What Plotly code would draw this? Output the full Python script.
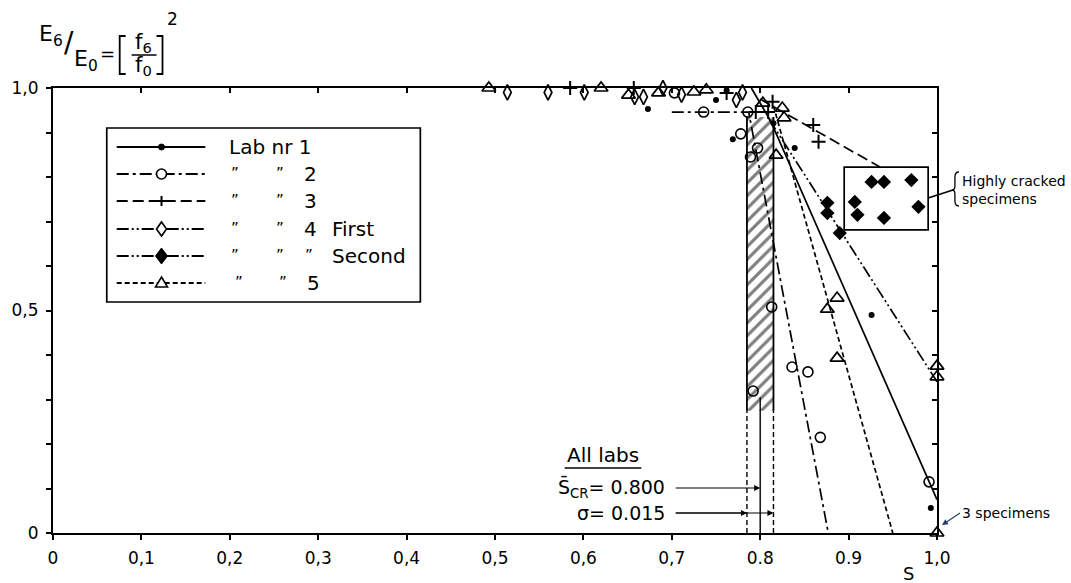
import plotly.graph_objects as go

FONT = "DejaVu Sans"

# ---------------- data ----------------
lab1_x = [0.673, 0.750, 0.762, 0.769, 0.815, 0.839, 0.926, 0.993]
lab1_y = [0.953, 0.973, 0.995, 0.885, 0.921, 0.865, 0.490, 0.056]

lab2_x = [0.703, 0.736, 0.786, 0.778, 0.797, 0.789, 0.813, 0.836, 0.854, 0.792, 0.868, 0.991]
lab2_y = [0.989, 0.946, 0.946, 0.897, 0.865, 0.845, 0.508, 0.373, 0.362, 0.319, 0.215, 0.115]

lab3_x = [0.585, 0.657, 0.762, 0.795, 0.809, 0.814, 0.860, 0.866]
lab3_y = [1.000, 1.000, 0.989, 0.946, 0.946, 0.969, 0.917, 0.879]

lab4a_x = [0.514, 0.560, 0.601, 0.658, 0.668, 0.690, 0.711, 0.773, 0.780]
lab4a_y = [0.990, 0.990, 0.990, 0.980, 0.980, 1.000, 0.985, 0.973, 0.990]

lab4b_x = [0.876, 0.876, 0.890, 0.907, 0.910, 0.926, 0.940, 0.940, 0.971, 0.979]
lab4b_y = [0.742, 0.719, 0.674, 0.744, 0.715, 0.789, 0.789, 0.708, 0.793, 0.733]

lab5_x = [0.493, 0.620, 0.651, 0.685, 0.725, 0.739, 0.803, 0.825, 0.827, 0.818,
          0.887, 0.876, 0.887, 1.000, 1.000, 1.000]
lab5_y = [1.000, 1.000, 0.984, 0.989, 0.991, 0.996, 0.966, 0.955, 0.933, 0.849,
          0.528, 0.503, 0.393, 0.375, 0.351, 0.000]

# fitted lines per lab
fit1_x = [0.790, 0.812, 1.000]
fit1_y = [1.000, 0.925, 0.075]
fit2_x = [0.700, 0.787, 0.877]
fit2_y = [0.946, 0.946, 0.000]
fit3_x = [0.800, 0.935]
fit3_y = [0.975, 0.823]
fit4b_x = [0.810, 1.000]
fit4b_y = [0.930, 0.340]
fit5_x = [0.815, 0.950]
fit5_y = [0.960, 0.000]

# all-labs critical value
S_CR = 0.800
SIGMA = 0.015
HATCH_LO = 0.275
HATCH_HI = 0.935

# highly cracked box
box_x = [0.895, 0.990]
box_y = [0.681, 0.822]

x_ticks = [0.0, 0.1, 0.2, 0.3, 0.4, 0.5, 0.6, 0.7, 0.8, 0.9, 1.0]
x_ticktext = ["0", "0,1", "0,2", "0,3", "0,4", "0,5", "0,6", "0,7", "0.8", "0.9", "1,0"]
y_ticks = [0.0, 0.1, 0.2, 0.3, 0.4, 0.5, 0.6, 0.7, 0.8, 0.9, 1.0]
y_ticktext = ["0", "", "", "", "", "0,5", "", "", "", "", "1,0"]

# ---------------- layout helpers (pixel -> paper) ----------------
W, H = 1071, 583
L, R, T, B = 49, 937, 88, 533


def px(x):
    return (x - L) / (R - L)


def py(y):
    return (B - y) / (B - T)


DASH_2 = "12px,4px,3px,4px"
DASH_3 = "11px,5px"
DASH_4 = "12px,3px,2px,3px,2px,3px"
DASH_5 = "5px,3px"

fig = go.Figure()

# hatched band (S_CR +/- sigma)
band_x = [S_CR - SIGMA, S_CR + SIGMA, S_CR + SIGMA, S_CR - SIGMA, S_CR - SIGMA]
band_y = [HATCH_LO, HATCH_LO, HATCH_HI, HATCH_HI, HATCH_LO]
fig.add_trace(go.Scatter(
    x=band_x, y=band_y, mode="lines", fill="toself", fillcolor="white",
    fillpattern=dict(shape="/", fgcolor="black", bgcolor="white", size=9, solidity=0.35),
    line=dict(width=0), showlegend=False, hoverinfo="skip"))
for xe in (S_CR - SIGMA, S_CR + SIGMA):
    fig.add_trace(go.Scatter(x=[xe, xe], y=[HATCH_LO, HATCH_HI], mode="lines",
                             line=dict(color="black", width=1.8), showlegend=False,
                             hoverinfo="skip"))
    fig.add_trace(go.Scatter(x=[xe, xe], y=[0, HATCH_LO], mode="lines",
                             line=dict(color="black", width=1.4, dash="5px,3px"),
                             showlegend=False, hoverinfo="skip"))
fig.add_trace(go.Scatter(x=[S_CR, S_CR], y=[0, HATCH_LO + 0.03], mode="lines",
                         line=dict(color="black", width=1.4), showlegend=False,
                         hoverinfo="skip"))

# fitted lines
fits = [
    (fit1_x, fit1_y, "solid"),
    (fit2_x, fit2_y, DASH_2),
    (fit3_x, fit3_y, DASH_3),
    (fit4b_x, fit4b_y, DASH_4),
    (fit5_x, fit5_y, DASH_5),
]
for fx, fy, dash in fits:
    fig.add_trace(go.Scatter(x=fx, y=fy, mode="lines", cliponaxis=False,
                             line=dict(color="black", width=1.7, dash=dash),
                             showlegend=False, hoverinfo="skip"))

# markers
markers = [
    (lab1_x, lab1_y, dict(symbol="circle", size=6, color="black")),
    (lab2_x, lab2_y, dict(symbol="circle-open", size=10, color="black", line=dict(width=1.6))),
    (lab3_x, lab3_y, dict(symbol="cross-thin-open", size=10, color="black", line=dict(width=2))),
    (lab4a_x, lab4a_y, dict(symbol="diamond-tall-open", size=11, color="black", line=dict(width=1.7))),
    (lab4b_x, lab4b_y, dict(symbol="diamond", size=11, color="black")),
    (lab5_x, lab5_y, dict(symbol="triangle-up-open", size=12, color="black", line=dict(width=1.7))),
]
for mx, my, mk in markers:
    fig.add_trace(go.Scatter(x=mx, y=my, mode="markers", marker=mk, cliponaxis=False,
                             showlegend=False))

# dummy trace so the top / right axes are drawn
fig.add_trace(go.Scatter(x=[None], y=[None], xaxis="x2", yaxis="y2", showlegend=False))

shapes = []
annotations = []


def txt(x, y, text, size, xanchor="center", yanchor="middle", align="center"):
    return dict(xref="paper", yref="paper", x=px(x), y=py(y), xanchor=xanchor,
                yanchor=yanchor, align=align, showarrow=False, text=text,
                font=dict(family=FONT, size=size, color="black"))


# highly cracked box
shapes.append(dict(type="rect", xref="x", yref="y", x0=box_x[0], x1=box_x[1],
                   y0=box_y[0], y1=box_y[1], line=dict(color="black", width=1.7)))
# leader + brace
shapes.append(dict(type="line", xref="paper", yref="paper", x0=box_x[1], y0=py(198),
                   x1=px(953), y1=py(190), line=dict(color="black", width=1.4)))
brace = ("M {a},{t} Q {b},{t} {b},{t2} L {b},{m1} Q {b},{m} {c},{m} "
         "Q {b},{m} {b},{m2} L {b},{b2} Q {b},{bt} {a},{bt}").format(
    a=px(959), b=px(955), c=px(952), t=py(172), t2=py(177), m1=py(186), m=py(190),
    m2=py(194), b2=py(201), bt=py(206))
shapes.append(dict(type="path", xref="paper", yref="paper", path=brace,
                   line=dict(color="black", width=1.3)))
annotations.append(txt(960, 190, "Highly cracked<br>specimens", 14, xanchor="left",
                       align="left"))

# 3 specimens
annotations.append(dict(xref="paper", yref="paper", x=px(942), y=py(525), ax=18, ay=-12,
                        showarrow=True, arrowhead=2, arrowsize=1, arrowwidth=1.2,
                        text="3 specimens", xanchor="left", yanchor="middle",
                        font=dict(family=FONT, size=14, color="black")))

# All labs annotations
annotations.append(txt(563, 455, "All labs", 20, xanchor="left"))
shapes.append(dict(type="line", xref="paper", yref="paper", x0=px(563), x1=px(640),
                   y0=py(468), y1=py(468), line=dict(color="black", width=1.6)))
annotations.append(txt(666, 488, "S\u0304<sub>CR</sub>= 0.800", 19, xanchor="right"))
annotations.append(txt(666, 513, "\u03c3= 0.015", 19, xanchor="right"))
arrow_tail = px(673)
for xh, yh in ((S_CR, py(488)), (S_CR - SIGMA, py(513)), (S_CR + SIGMA, py(513))):
    annotations.append(dict(xref="x", yref="y", axref="x", ayref="y",
                            x=xh, y=yh, ax=arrow_tail, ay=yh, text="", showarrow=True,
                            arrowhead=2, arrowsize=1, arrowwidth=1.2, arrowcolor="black"))

# axis title S
annotations.append(txt(908, 573, "S", 18))

# y-axis formula title
annotations += [
    txt(33, 36, "E<sub>6</sub>", 22, xanchor="left"),
    txt(65, 43, "/", 28),
    txt(68, 61, "E<sub>0</sub>", 22, xanchor="left"),
    txt(104, 53, "=", 18),
    txt(140, 43, "f<sub>6</sub>", 21),
    txt(140, 66, "f<sub>0</sub>", 21),
    txt(169, 19, "2", 17),
]
shapes += [
    dict(type="path", xref="paper", yref="paper",
         path=f"M {px(122)},{py(36)} L {px(116)},{py(36)} L {px(116)},{py(74)} L {px(122)},{py(74)}",
         line=dict(color="black", width=1.8)),
    dict(type="path", xref="paper", yref="paper",
         path=f"M {px(153)},{py(36)} L {px(159)},{py(36)} L {px(159)},{py(74)} L {px(153)},{py(74)}",
         line=dict(color="black", width=1.8)),
    dict(type="line", xref="paper", yref="paper", x0=px(128), x1=px(153), y0=py(55),
         y1=py(55), line=dict(color="black", width=1.5)),
]

# ---------------- legend (drawn as a key box) ----------------
shapes.append(dict(type="rect", xref="paper", yref="paper", x0=px(103), x1=px(418),
                   y0=py(128), y1=py(302), line=dict(color="black", width=1.7),
                   fillcolor="white", layer="above"))
rows = [147, 174, 201, 229, 256, 283]
row_dash = ["solid", DASH_2, DASH_3, DASH_4, DASH_4, DASH_5]
for r, d in zip(rows, row_dash):
    shapes.append(dict(type="line", xref="paper", yref="paper", x0=px(113), x1=px(202),
                       y0=py(r), y1=py(r), line=dict(color="black", width=1.8, dash=d)))
mx0 = px(158)


def pix_shape(row, path=None, circle=None, fill="white", lw=1.6):
    d = dict(xref="paper", yref="paper", xsizemode="pixel", ysizemode="pixel",
             xanchor=mx0, yanchor=py(row), line=dict(color="black", width=lw),
             fillcolor=fill)
    if circle is not None:
        d.update(type="circle", x0=-circle, x1=circle, y0=-circle, y1=circle)
    else:
        d.update(type="path", path=path)
    return d


shapes += [
    pix_shape(rows[0], circle=3, fill="black", lw=1),
    pix_shape(rows[1], circle=5, fill="white", lw=1.6),
    pix_shape(rows[2], path="M -5,0 L 5,0 M 0,-5 L 0,5", fill="rgba(0,0,0,0)", lw=2),
    pix_shape(rows[3], path="M 0,7 L 5,0 L 0,-7 L -5,0 Z", fill="white", lw=1.6),
    pix_shape(rows[4], path="M 0,8 L 6,0 L 0,-8 L -6,0 Z", fill="black", lw=1),
    pix_shape(rows[5], path="M 0,6 L 6,-4 L -6,-4 Z", fill="white", lw=1.6),
]

DITTO = "\u201d"
annotations.append(txt(224, rows[0], "Lab nr 1", 20, xanchor="left"))
for r, num, extra in ((rows[1], "2", ""), (rows[2], "3", ""), (rows[3], "4", "First")):
    annotations.append(txt(232, r, DITTO, 15))
    annotations.append(txt(277, r, DITTO, 15))
    annotations.append(txt(299, r, num, 20, xanchor="left"))
    if extra:
        annotations.append(txt(327, r, extra, 20, xanchor="left"))
annotations.append(txt(232, rows[4], DITTO, 15))
annotations.append(txt(277, rows[4], DITTO, 15))
annotations.append(txt(306, rows[4], DITTO, 15))
annotations.append(txt(327, rows[4], "Second", 20, xanchor="left"))
annotations.append(txt(236, rows[5], DITTO, 15))
annotations.append(txt(280, rows[5], DITTO, 15))
annotations.append(txt(302, rows[5], "5", 20, xanchor="left"))

axis_common = dict(range=[0, 1], showgrid=False, zeroline=False, showline=True,
                   linecolor="black", linewidth=2, tickcolor="black", ticklen=5,
                   tickwidth=1.5, fixedrange=True)

fig.update_layout(
    width=W, height=H,
    margin=dict(l=L, r=W - R, t=T, b=H - B),
    paper_bgcolor="white", plot_bgcolor="white",
    showlegend=False,
    font=dict(family=FONT, color="black"),
    xaxis=dict(**axis_common, tickvals=x_ticks, ticktext=x_ticktext, ticks="outside",
               tickfont=dict(family=FONT, size=17, color="black"), ticklabelstandoff=4),
    yaxis=dict(**axis_common, tickvals=y_ticks, ticktext=y_ticktext, ticks="outside",
               tickfont=dict(family=FONT, size=17, color="black"), ticklabelstandoff=4),
    xaxis2=dict(**axis_common, overlaying="x", side="top", anchor="y2", tickvals=x_ticks,
                ticks="inside", showticklabels=False),
    yaxis2=dict(**axis_common, overlaying="y", side="right", anchor="x2", tickvals=y_ticks,
                ticks="inside", showticklabels=False),
    shapes=shapes,
    annotations=annotations,
)

fig.write_html("out.html", config={"displayModeBar": False},
               post_script="document.body.style.margin='0px';document.body.style.overflow='hidden';")
